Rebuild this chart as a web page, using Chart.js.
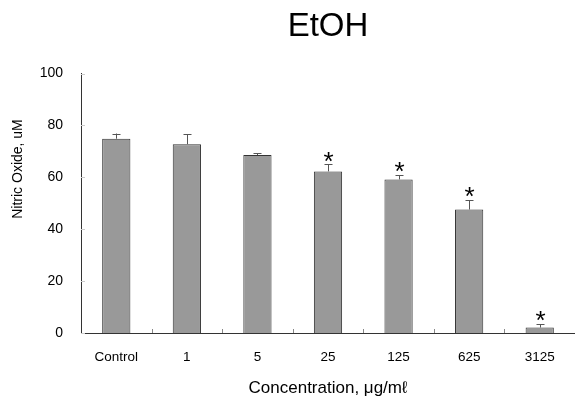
<!DOCTYPE html>
<html>
<head>
<meta charset="utf-8">
<script src="https://cdn.jsdelivr.net/npm/chart.js@4"></script>
<style>
  html, body { margin: 0; padding: 0; background: #fff; }
  #wrap { width: 575px; height: 399px; }
</style>
</head>
<body>
<div id="wrap"><canvas id="canvas" width="575" height="399"></canvas></div>
<script>
// data
let categories = ['Control', '1', '5', '25', '125', '625', '3125'];
let noValues = [74.9, 72.8, 68.6, 62.3, 59.2, 47.6, 2.1];
let noErrors = [2.0, 3.8, 0.7, 2.7, 1.6, 3.6, 1.3];
let significant = [false, false, false, true, true, true, true];
let yTicks = [0, 20, 40, 60, 80, 100];

let fontName = '"Liberation Sans", Arial, sans-serif';

// error bars (upper only), stars, inward ticks and y title
const extras = {
  id: 'extras',
  afterDatasetsDraw(chart) {
    const ctx = chart.ctx;
    const x = chart.scales.x;
    const y = chart.scales.y;
    const area = chart.chartArea;
    ctx.save();

    // error bars
    ctx.strokeStyle = '#555';
    ctx.lineWidth = 1;
    for (let i = 0; i < noValues.length; i++) {
      let px = Math.round(x.getPixelForValue(i)) + 0.5;
      let top = y.getPixelForValue(noValues[i]);
      let eTop = y.getPixelForValue(noValues[i] + noErrors[i]);
      ctx.beginPath();
      ctx.moveTo(px, top);
      ctx.lineTo(px, eTop);
      ctx.moveTo(px - 4, Math.round(eTop) + 0.5);
      ctx.lineTo(px + 4, Math.round(eTop) + 0.5);
      ctx.stroke();

      if (significant[i]) {
        ctx.fillStyle = '#000';
        ctx.font = '26px ' + fontName;
        ctx.textAlign = 'center';
        ctx.textBaseline = 'middle';
        ctx.fillText('*', px, eTop - 2);
      }
    }

    // small inward ticks on the x axis between categories
    ctx.strokeStyle = '#888';
    let step = (area.right - area.left) / categories.length;
    for (let i = 1; i < categories.length; i++) {
      let tx = Math.round(area.left + step * i) + 0.5;
      ctx.beginPath();
      ctx.moveTo(tx, area.bottom);
      ctx.lineTo(tx, area.bottom - 4);
      ctx.stroke();
    }
    // small inward ticks on the y axis
    ctx.strokeStyle = '#ccc';
    yTicks.forEach(function (t) {
      let ty = Math.round(y.getPixelForValue(t)) + 0.5;
      ctx.beginPath();
      ctx.moveTo(area.left, ty);
      ctx.lineTo(area.left + 4, ty);
      ctx.stroke();
    });

    // y axis title
    ctx.fillStyle = '#000';
    ctx.font = '14px ' + fontName;
    ctx.textAlign = 'center';
    ctx.textBaseline = 'middle';
    ctx.translate(18, 169);
    ctx.rotate(-Math.PI / 2);
    ctx.fillText('Nitric Oxide, uM', 0, 0);
    ctx.restore();
  }
};

window.onload = function () {
  let ctx = document.getElementById('canvas');
  new Chart(ctx, {
    type: 'bar',
    data: {
      labels: categories,
      datasets: [{
        data: noValues,
        backgroundColor: '#999999',
        borderColor: '#333333',
        borderWidth: 1,
        borderSkipped: 'bottom',
        barPercentage: 0.4,
        categoryPercentage: 1
      }]
    },
    options: {
      responsive: false,
      animation: false,
      layout: { padding: { left: 0, right: 0, top: 0, bottom: 0 } },
      plugins: {
        legend: { display: false },
        tooltip: { enabled: false },
        title: {
          display: true,
          fullSize: false,
          text: 'EtOH',
          color: '#000',
          font: { family: fontName, size: 33, weight: 'normal' },
          padding: { top: 7, bottom: 27 }
        }
      },
      scales: {
        x: {
          grid: { display: false },
          border: { display: true, color: '#333', width: 1 },
          ticks: {
            color: '#000',
            font: { family: fontName, size: 13.5 },
            padding: 8,
            maxRotation: 0
          },
          title: {
            display: true,
            text: 'Concentration, μg/mℓ',
            color: '#000',
            font: { family: fontName, size: 17 },
            padding: { top: 8, bottom: 0 }
          },
          afterFit: function (scale) { scale.height = 66; }
        },
        y: {
          min: 0,
          max: 100,
          grid: { display: false },
          border: { display: true, color: '#333', width: 1 },
          ticks: {
            stepSize: 20,
            color: '#000',
            font: { family: fontName, size: 14 },
            padding: 10
          },
          afterFit: function (scale) { scale.width = 81; }
        }
      }
    },
    plugins: [extras]
  });
};
</script>
</body>
</html>
